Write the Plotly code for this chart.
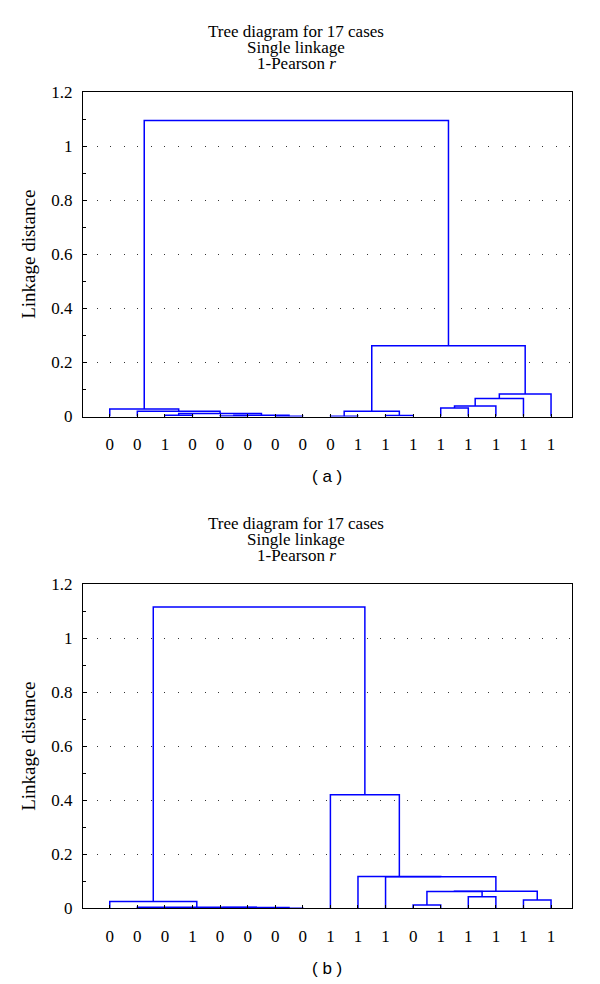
import plotly.graph_objects as go

# ---------------- data ----------------
leaf_labels_a = ["0", "0", "1", "0", "0", "0", "0", "0", "0", "1", "1", "1", "1", "1", "1", "1", "1"]
leaf_labels_b = ["0", "0", "0", "1", "0", "0", "0", "0", "1", "1", "1", "0", "1", "1", "1", "1", "1"]

# linkage (scipy style): leaves 0..16, new clusters numbered from 17
merge_left_a = [6, 4, 18, 2, 20, 1, 0, 8, 10, 24, 12, 27, 28, 29, 26, 23]
merge_right_a = [7, 5, 17, 3, 19, 21, 22, 9, 11, 25, 13, 14, 15, 16, 30, 31]
merge_height_a = [0.001, 0.002, 0.005, 0.005, 0.011, 0.019, 0.028, 0.001, 0.004,
                  0.019, 0.031, 0.039, 0.067, 0.083, 0.262, 1.095]

merge_left_b = [2, 17, 18, 6, 19, 1, 0, 11, 13, 15, 24, 27, 10, 9, 8, 23]
merge_right_b = [3, 4, 5, 7, 20, 21, 22, 12, 14, 16, 25, 26, 28, 29, 30, 31]
merge_height_b = [0.0005, 0.001, 0.0015, 0.0005, 0.003, 0.004, 0.025, 0.012, 0.043,
                  0.031, 0.062, 0.063, 0.117, 0.118, 0.42, 1.115]

y_tick_vals = [0, 0.2, 0.4, 0.6, 0.8, 1.0, 1.2]
y_tick_text = ["0", "0.2", "0.4", "0.6", "0.8", "1", "1.2"]

title_lines = ["Tree diagram for 17 cases", "Single linkage", "1-Pearson <i>r</i>"]
panel_labels = ["( a )", "( b )"]


def dendro_segments(n_leaves, lefts, rights, heights):
    pos = {i: i + 1 for i in range(n_leaves)}
    hgt = {i: 0.0 for i in range(n_leaves)}
    xs, ys = [], []
    for k, (l, r, h) in enumerate(zip(lefts, rights, heights)):
        node = n_leaves + k
        xl, xr = pos[l], pos[r]
        xs += [xl, xl, xr, xr, None]
        ys += [hgt[l], h, h, hgt[r], None]
        pos[node] = (xl + xr) / 2
        hgt[node] = h
    return xs, ys


W, H = 600, 984
OFF = 8  # page body margin of the viewer


def px_x(p):
    return (p - OFF) / W


def px_y(p):
    return 1 - (p - OFF) / H


x_dom = [px_x(83), px_x(572)]
dom_a = [px_y(416.5), px_y(92)]
dom_b = [px_y(908.3), px_y(584)]

fig = go.Figure()
serif = "Liberation Serif"
blue = "#0000ff"

for idx, (lefts, rights, heights, labels) in enumerate([
        (merge_left_a, merge_right_a, merge_height_a, leaf_labels_a),
        (merge_left_b, merge_right_b, merge_height_b, leaf_labels_b)]):
    xs, ys = dendro_segments(len(labels), lefts, rights, heights)
    sfx = "" if idx == 0 else "2"
    fig.add_trace(go.Scatter(x=xs, y=ys, mode="lines",
                             line=dict(color=blue, width=1.5),
                             xaxis="x" + sfx, yaxis="y" + sfx,
                             showlegend=False, hoverinfo="skip"))

    xaxis = dict(domain=x_dom, range=[0.03, 17.76], showgrid=False, zeroline=False,
                 automargin=False,
                 tickmode="array", tickvals=list(range(1, len(labels) + 1)), ticktext=labels,
                 ticks="inside", ticklen=3, tickcolor="black",
                 showline=True, linecolor="black", linewidth=1, mirror=True,
                 tickfont=dict(family=serif, size=17, color="black"),
                 ticklabelstandoff=12,
                 anchor="y" + sfx)
    yaxis = dict(domain=dom_a if idx == 0 else dom_b, range=[0, 1.2],
                 automargin=False,
                 tickmode="array", tickvals=y_tick_vals, ticktext=y_tick_text,
                 ticks="inside", ticklen=4, tickcolor="black",
                 minor=dict(dtick=0.1, ticks="inside", ticklen=3, tickcolor="black", showgrid=False),
                 showgrid=True, gridcolor="#333333", gridwidth=1, griddash="1.2px,12.3px",
                 zeroline=False,
                 showline=True, linecolor="black", linewidth=1, mirror=True,
                 tickfont=dict(family=serif, size=17, color="black"),
                 ticklabelstandoff=6,
                 title=dict(text="Linkage distance", font=dict(family=serif, size=19, color="black"),
                            standoff=10),
                 anchor="x" + sfx)
    if idx == 0:
        fig.update_layout(xaxis=xaxis, yaxis=yaxis)
    else:
        fig.update_layout(xaxis2=xaxis, yaxis2=yaxis)

annotations = []
for off, lab in zip([0, 492], panel_labels):
    for j, (line, yc) in enumerate(zip(title_lines, [31.5, 47.5, 63])):
        annotations.append(dict(text=line, x=px_x(296), y=px_y(yc + off),
                                xref="paper", yref="paper", showarrow=False,
                                xanchor="center", yanchor="middle",
                                font=dict(family=serif, size=17, color="black")))
    annotations.append(dict(text=lab, x=px_x(327), y=px_y(476 + off),
                            xref="paper", yref="paper", showarrow=False,
                            xanchor="center", yanchor="middle",
                            font=dict(family="Liberation Sans", size=17, color="black")))

fig.update_layout(width=W, height=H, margin=dict(l=0, r=0, t=0, b=0, autoexpand=False),
                  paper_bgcolor="white", plot_bgcolor="white",
                  annotations=annotations)

fig.write_html("out.html")
